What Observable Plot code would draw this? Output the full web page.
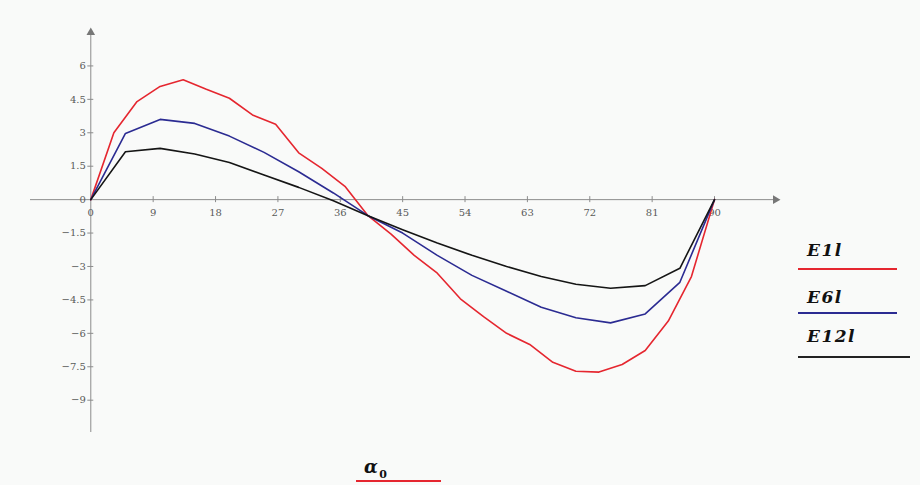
<!DOCTYPE html>
<html>
<head>
<meta charset="utf-8">
<script src="https://cdn.jsdelivr.net/npm/d3@7"></script>
<script src="https://cdn.jsdelivr.net/npm/@observablehq/plot@0.6"></script>
<style>
  html, body { margin: 0; padding: 0; background: #f9faf9; }
  #wrap { position: relative; width: 920px; height: 485px; overflow: hidden; }
  .leg { position: absolute; font-family: "DejaVu Serif", serif; font-weight: bold; font-style: italic; font-size: 17px; letter-spacing: 1.5px; color: #111; }
  .sw { position: absolute; height: 2px; }
  #cap { position: absolute; left: 0; top: 445px; width: 920px; height: 40px; }
</style>
</head>
<body>
<div id="wrap">
  <div id="chart"></div>
  <div class="leg" style="left:807px; top:240px;">E1l</div>
  <div class="sw" style="left:798px; top:268px; width:99px; background:#e5262f;"></div>
  <div class="leg" style="left:807px; top:287px;">E6l</div>
  <div class="sw" style="left:798px; top:312px; width:99px; background:#2b2b92;"></div>
  <div class="leg" style="left:807px; top:326px;">E12l</div>
  <div class="sw" style="left:798px; top:356px; width:112px; background:#222;"></div>
  <div id="cap">
    <div class="leg" style="left:364px; top:11px; font-size:18px;">α<sub style="font-size:11px; font-style:normal;">0</sub></div>
    <div class="sw" style="left:356px; top:35px; width:85px; background:#e5262f;"></div>
  </div>
</div>
<script>
// ---- data ----
const redX = [0, 3.33, 6.67, 10, 13.33, 16.67, 20, 23.33, 26.67, 30, 33.33, 36.67, 40, 43.33, 46.67, 50, 53.33, 56.67, 60, 63.33, 66.67, 70, 73.33, 76.67, 80, 83.33, 86.67, 90];
const redY = [0, 3.0, 4.4, 5.08, 5.38, 4.95, 4.55, 3.8, 3.38, 2.1, 1.4, 0.6, -0.72, -1.55, -2.5, -3.3, -4.45, -5.25, -6.0, -6.5, -7.3, -7.7, -7.74, -7.4, -6.77, -5.45, -3.45, 0];
const angles5 = [0, 5, 10, 15, 20, 25, 30, 35, 40, 45, 50, 55, 60, 65, 70, 75, 80, 85, 90];
const blueY = [0, 2.97, 3.6, 3.42, 2.85, 2.12, 1.25, 0.3, -0.72, -1.5, -2.5, -3.4, -4.11, -4.83, -5.3, -5.53, -5.13, -3.71, 0];
const blackY = [0, 2.15, 2.3, 2.05, 1.67, 1.1, 0.55, -0.05, -0.72, -1.35, -1.95, -2.5, -3.0, -3.45, -3.8, -3.98, -3.86, -3.08, 0];
const xTicks = [0, 9, 18, 27, 36, 45, 54, 63, 72, 81, 90];
const yTicks = [-9, -7.5, -6, -4.5, -3, -1.5, 0, 1.5, 3, 4.5, 6];
const xDomain = [-8.7, 98.8];
const yDomain = [-10.45, 7.5];

const red = redX.map((x, i) => ({x, y: redY[i]}));
const blue = angles5.map((x, i) => ({x, y: blueY[i]}));
const black = angles5.map((x, i) => ({x, y: blackY[i]}));

const axisColor = "#8c8c8c";
const labelStyle = {fontFamily: "DejaVu Serif, serif", fontSize: 10, fill: "#5a5a5a"};
const fmt = d => (d < 0 ? "\u2212" : "") + String(Math.abs(d));

const chart = Plot.plot({
  width: 920,
  height: 445,
  marginLeft: 30,
  marginRight: 145,
  marginTop: 32,
  marginBottom: 13,
  x: {domain: xDomain, axis: null},
  y: {domain: yDomain, axis: null},
  style: {background: "transparent", overflow: "visible"},
  marks: [
    Plot.ruleY([0], {stroke: axisColor, strokeWidth: 1}),
    Plot.ruleX([0], {stroke: axisColor, strokeWidth: 1}),
    Plot.dot([{x: xDomain[1], y: 0}], {x: "x", y: "y", symbol: "triangle", rotate: 90, r: 3.2, fill: "#777", stroke: "none"}),
    Plot.dot([{x: 0, y: yDomain[1]}], {x: "x", y: "y", symbol: "triangle", r: 3.2, fill: "#777", stroke: "none"}),
    Plot.ruleX(xTicks.filter(d => d !== 0), {x: d => d, y1: 0, y2: 0, insetTop: -3, insetBottom: -3, stroke: axisColor}),
    Plot.ruleY(yTicks.filter(d => d !== 0), {y: d => d, x1: 0, x2: 0, insetLeft: -3, insetRight: -3, stroke: axisColor}),
    Plot.text(xTicks, {x: d => d, y: 0, dy: 13, text: d => String(d), ...labelStyle, letterSpacing: "1px"}),
    Plot.text(yTicks, {x: 0, y: d => d, dx: -5, textAnchor: "end", text: fmt, ...labelStyle, letterSpacing: "1px"}),
    Plot.line(red, {x: "x", y: "y", stroke: "#e5262f", strokeWidth: 1.6}),
    Plot.line(blue, {x: "x", y: "y", stroke: "#2b2b92", strokeWidth: 1.6}),
    Plot.line(black, {x: "x", y: "y", stroke: "#151515", strokeWidth: 1.6})
  ]
});
document.getElementById("chart").appendChild(chart);
</script>
</body>
</html>
